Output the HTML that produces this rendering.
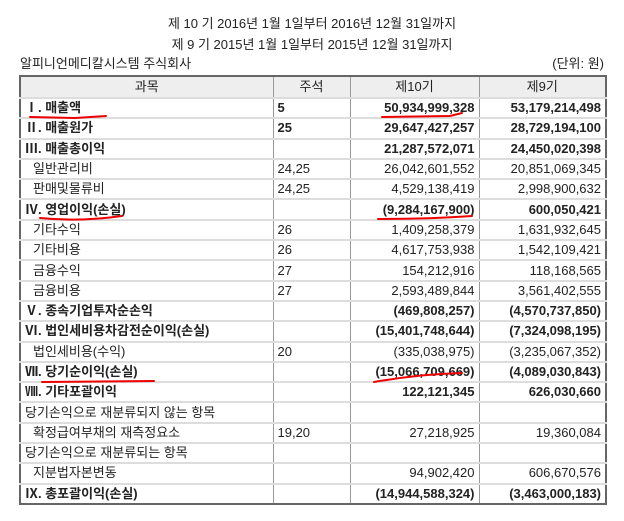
<!DOCTYPE html>
<html><head><meta charset="utf-8"><style>
body{margin:0;width:624px;height:521px;background:#fff;font-family:"Liberation Sans","Noto Sans CJK KR","NanumGothic",sans-serif;color:#222;position:relative;overflow:hidden}
.t{position:absolute;font-size:13px;white-space:nowrap}
table{position:absolute;left:19px;top:75px;border-collapse:collapse;width:586px;table-layout:fixed;border:2px solid #666;font-size:13px}
td{height:18.3px;padding:0 4px;border-left:1px solid #999;border-top:2px solid #ddd;white-space:nowrap;overflow:hidden;line-height:18px}
tr.h td{background:#eee;text-align:center;border-top:none;height:20px}
td.n{text-align:right}
tr.b td{font-weight:bold}
td.s{padding-left:12px}
</style></head><body>
<div class="t" style="left:0;width:624px;text-align:center;top:13px">제 10 기 2016년 1월 1일부터 2016년 12월 31일까지</div>
<div class="t" style="left:0;width:624px;text-align:center;top:34px">제 9 기 2015년 1월 1일부터 2015년 12월 31일까지</div>
<div class="t" style="left:20px;top:53px">알피니언메디칼시스템 주식회사</div>
<div class="t" style="right:20px;top:53px">(단위: 원)</div>
<table>
<colgroup><col style="width:253px"><col style="width:77px"><col style="width:129px"><col style="width:127px"></colgroup>
<tr class="h"><td>과목</td><td>주석</td><td>제10기</td><td>제9기</td></tr>
<tr class="b"><td>Ⅰ. 매출액</td><td>5</td><td class="n">50,934,999,328</td><td class="n">53,179,214,498</td></tr>
<tr class="b"><td>Ⅱ. 매출원가</td><td>25</td><td class="n">29,647,427,257</td><td class="n">28,729,194,100</td></tr>
<tr class="b"><td>Ⅲ. 매출총이익</td><td></td><td class="n">21,287,572,071</td><td class="n">24,450,020,398</td></tr>
<tr><td class="s">일반관리비</td><td>24,25</td><td class="n">26,042,601,552</td><td class="n">20,851,069,345</td></tr>
<tr><td class="s">판매및물류비</td><td>24,25</td><td class="n">4,529,138,419</td><td class="n">2,998,900,632</td></tr>
<tr class="b"><td>Ⅳ. 영업이익(손실)</td><td></td><td class="n">(9,284,167,900)</td><td class="n">600,050,421</td></tr>
<tr><td class="s">기타수익</td><td>26</td><td class="n">1,409,258,379</td><td class="n">1,631,932,645</td></tr>
<tr><td class="s">기타비용</td><td>26</td><td class="n">4,617,753,938</td><td class="n">1,542,109,421</td></tr>
<tr><td class="s">금융수익</td><td>27</td><td class="n">154,212,916</td><td class="n">118,168,565</td></tr>
<tr><td class="s">금융비용</td><td>27</td><td class="n">2,593,489,844</td><td class="n">3,561,402,555</td></tr>
<tr class="b"><td>Ⅴ. 종속기업투자순손익</td><td></td><td class="n">(469,808,257)</td><td class="n">(4,570,737,850)</td></tr>
<tr class="b"><td>Ⅵ. 법인세비용차감전순이익(손실)</td><td></td><td class="n">(15,401,748,644)</td><td class="n">(7,324,098,195)</td></tr>
<tr><td class="s">법인세비용(수익)</td><td>20</td><td class="n">(335,038,975)</td><td class="n">(3,235,067,352)</td></tr>
<tr class="b"><td>Ⅶ. 당기순이익(손실)</td><td></td><td class="n">(15,066,709,669)</td><td class="n">(4,089,030,843)</td></tr>
<tr class="b"><td>Ⅷ. 기타포괄이익</td><td></td><td class="n">122,121,345</td><td class="n">626,030,660</td></tr>
<tr><td>당기손익으로 재분류되지 않는 항목</td><td></td><td></td><td></td></tr>
<tr><td class="s">확정급여부채의 재측정요소</td><td>19,20</td><td class="n">27,218,925</td><td class="n">19,360,084</td></tr>
<tr><td>당기손익으로 재분류되는 항목</td><td></td><td></td><td></td></tr>
<tr><td class="s">지분법자본변동</td><td></td><td class="n">94,902,420</td><td class="n">606,670,576</td></tr>
<tr class="b"><td>Ⅸ. 총포괄이익(손실)</td><td></td><td class="n">(14,944,588,324)</td><td class="n">(3,463,000,183)</td></tr>
</table>
<svg style="position:absolute;left:0;top:0" width="624" height="521" fill="none" stroke="#e00" stroke-width="2" stroke-linecap="round">
<path d="M30 117 L75 118 L106 116"/>
<path d="M382 117 L450 116 L462 113"/>
<path d="M40 218 Q80 222 122 216"/>
<path d="M378 219 Q430 219 472 216"/>
<path d="M42 382 L154 381"/>
<path d="M374 382 Q420 374 462 373"/>
</svg>
</body></html>
